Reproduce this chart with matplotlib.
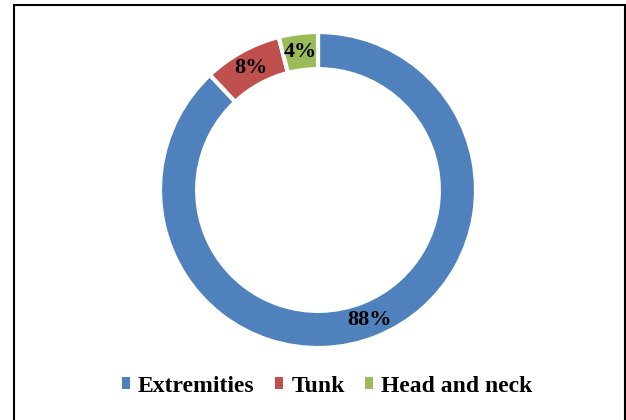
import matplotlib
matplotlib.use("Agg")
import matplotlib.pyplot as plt
from matplotlib.patches import Patch, Rectangle

# share of lesions by body site
sites = ["Extremities", "Tunk", "Head and neck"]
shares = [88, 8, 4]
colors = ["#4F81BD", "#C0504D", "#9BBB59"]

plt.rcParams["font.family"] = ["Liberation Serif", "DejaVu Serif"]

fig = plt.figure(figsize=(6.26, 4.2), dpi=100)

# ring sits a bit left of centre, above the legend
ax = fig.add_axes([0.2556, 0.1714, 0.5048, 0.7524])
ring = 0.235
wedges, texts, autotexts = ax.pie(
    shares, colors=colors, startangle=90, counterclock=False, radius=1,
    wedgeprops=dict(width=ring, edgecolor="white", linewidth=3),
    autopct=lambda p: f"{p:.0f}%", pctdistance=1 - ring / 2,
    textprops=dict(fontsize=16, fontweight="bold", color="black"),
)
ax.set_xlim(-1, 1)
ax.set_ylim(-1, 1)
ax.set_aspect("equal")
ax.axis("off")

handles = [Patch(facecolor=c, edgecolor="none") for c in colors]
fig.legend(handles, sites, loc="center", bbox_to_anchor=(327 / 626, 1 - 386 / 420),
           ncol=3, frameon=False, handlelength=0.35, handleheight=0.35,
           handletextpad=0.35, columnspacing=0.85,
           prop=dict(size=17, weight="bold"))

# chart-area border
fig.patches.append(Rectangle((13.5 / 626, -0.05), 611 / 626, 1.05 - 5.5 / 420,
                             transform=fig.transFigure, fill=False,
                             edgecolor="black", linewidth=1.5))

fig.savefig("out.png", dpi=100)
